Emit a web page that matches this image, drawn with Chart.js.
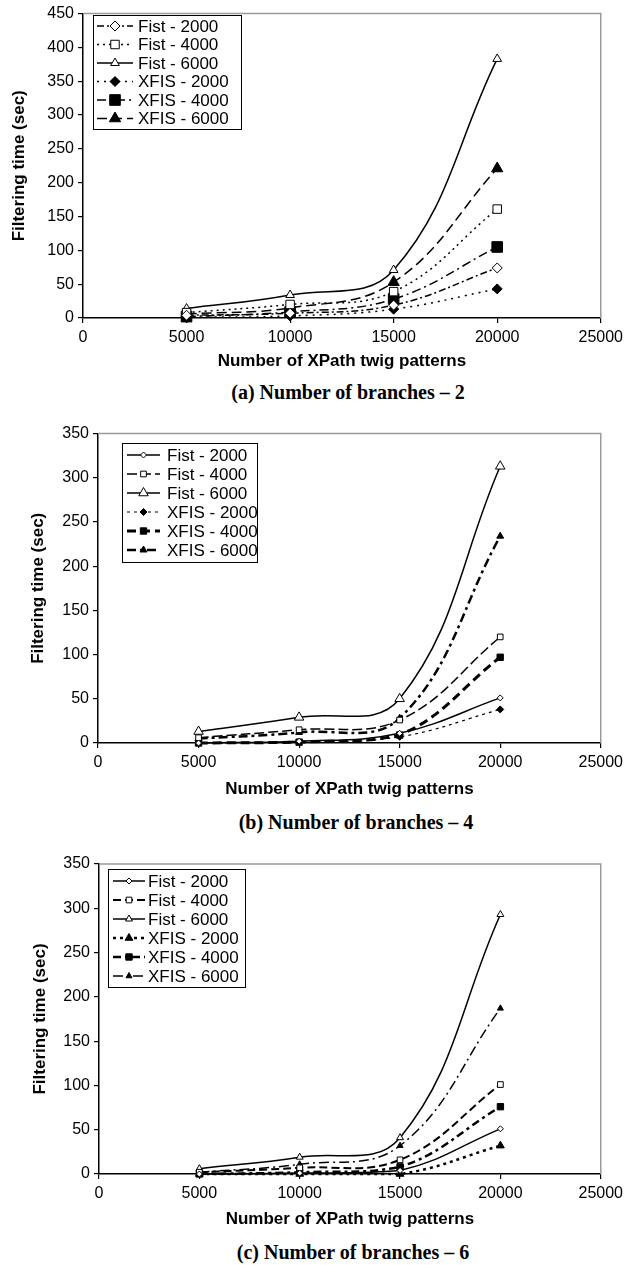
<!DOCTYPE html>
<html>
<head>
<meta charset="utf-8">
<script src="https://cdn.jsdelivr.net/npm/chart.js@4.4.1/dist/chart.umd.min.js"></script>
<style>
  html, body { margin: 0; padding: 0; background: #fff; }
  body { width: 628px; height: 1265px; position: relative; overflow: hidden; }
  canvas { position: absolute; left: 0; }
  .caption {
    position: absolute;
    font: bold 20px "Liberation Serif", "Times New Roman", serif;
    color: #000;
    white-space: nowrap;
    transform: translate(-50%, -50%);
  }
</style>
</head>
<body>
<canvas id="chartA" width="628" height="380" style="top:0"></canvas>
<div class="caption" style="left:348px;top:392px">(a) Number of branches – 2</div>
<canvas id="chartB" width="628" height="385" style="top:420px"></canvas>
<div class="caption" style="left:356px;top:822px">(b) Number of branches – 4</div>
<canvas id="chartC" width="628" height="395" style="top:840px"></canvas>
<div class="caption" style="left:353px;top:1252px">(c) Number of branches – 6</div>

<script>
// x positions shared by every series
const patterns = [5000, 10000, 15000, 20000];
const seriesNames = ['Fist - 2000', 'Fist - 4000', 'Fist - 6000', 'XFIS - 2000', 'XFIS - 4000', 'XFIS - 6000'];

// filtering time (sec), 2 branches
const b2Fist2000 = [4, 7, 19, 74];
const b2Fist4000 = [8, 20, 39, 161];
const b2Fist6000 = [14, 34, 71, 383];
const b2Xfis2000 = [1, 3, 13, 43];
const b2Xfis4000 = [2, 9, 28, 105];
const b2Xfis6000 = [6, 15, 53, 221];

// 4 branches
const b4Fist2000 = [0, 2, 11, 51];
const b4Fist4000 = [6, 15, 26, 120];
const b4Fist6000 = [13, 29, 50, 313];
const b4Xfis2000 = [0, 1, 7, 38];
const b4Xfis4000 = [0, 1, 9, 97];
const b4Xfis6000 = [5, 12, 28, 234];

// 6 branches
const b6Fist2000 = [0, 1, 4, 51];
const b6Fist4000 = [2, 7, 16, 101];
const b6Fist6000 = [6, 19, 41, 293];
const b6Xfis2000 = [0, 0, 0, 32];
const b6Xfis4000 = [0, 2, 8, 76];
const b6Xfis6000 = [2, 11, 32, 187];

Chart.defaults.color = '#000';
Chart.defaults.font.family = '"Liberation Sans", Arial, sans-serif';

// marker shapes for the legend box
function drawMarker(ctx, style, x, y, r, fill) {
  ctx.beginPath();
  if (style === 'rect') {
    const s = r * Math.SQRT1_2;
    ctx.rect(x - s, y - s, 2 * s, 2 * s);
  } else if (style === 'rectRot') {
    ctx.moveTo(x, y - r); ctx.lineTo(x + r, y); ctx.lineTo(x, y + r); ctx.lineTo(x - r, y);
    ctx.closePath();
  } else {
    ctx.moveTo(x, y - r);
    ctx.lineTo(x + r * 0.866, y + r * 0.5);
    ctx.lineTo(x - r * 0.866, y + r * 0.5);
    ctx.closePath();
  }
  ctx.fillStyle = fill;
  ctx.fill();
  ctx.lineWidth = 1;
  ctx.strokeStyle = '#000';
  ctx.stroke();
}

// grey plot border on the top and right
const plotFrame = {
  id: 'plotFrame',
  beforeDatasetsDraw(chart) {
    const { ctx, chartArea: a } = chart;
    ctx.save();
    ctx.strokeStyle = '#9a9a9a';
    ctx.lineWidth = 1.5;
    ctx.beginPath();
    ctx.moveTo(a.left, a.top);
    ctx.lineTo(a.right, a.top);
    ctx.lineTo(a.right, a.bottom);
    ctx.stroke();
    ctx.restore();
  }
};

// boxed legend inside the plot, line sample + marker + label
const boxLegend = {
  id: 'boxLegend',
  afterDraw(chart, args, o) {
    const ctx = chart.ctx;
    ctx.save();
    ctx.fillStyle = '#fff';
    ctx.fillRect(o.x, o.y, o.w, o.h);
    ctx.strokeStyle = '#000';
    ctx.lineWidth = 1;
    ctx.strokeRect(o.x + 0.5, o.y + 0.5, o.w, o.h);
    chart.data.datasets.forEach((ds, i) => {
      const y = o.rowTop + i * o.rowGap;
      ctx.strokeStyle = '#000';
      ctx.setLineDash(ds.borderDash);
      ctx.lineWidth = ds.borderWidth;
      ctx.beginPath();
      ctx.moveTo(o.lineFrom, y);
      ctx.lineTo(o.lineTo, y);
      ctx.stroke();
      ctx.setLineDash([]);
      drawMarker(ctx, ds.pointStyle, (o.lineFrom + o.lineTo) / 2, y, ds.pointRadius, ds.pointBackgroundColor);
      ctx.fillStyle = '#000';
      ctx.font = '17px "Liberation Sans", Arial, sans-serif';
      ctx.textBaseline = 'middle';
      ctx.fillText(ds.label, o.textX, y + 1);
    });
    ctx.restore();
  }
};

function makeChart(id, series, styles, geo) {
  const datasets = series.map((values, i) => {
    const st = styles[i];
    return {
      label: seriesNames[i],
      data: patterns.map((x, j) => ({ x: x, y: values[j] })),
      borderColor: '#000',
      borderWidth: st.width,
      borderDash: st.dash,
      pointStyle: st.marker,
      pointRadius: st.r,
      pointBorderWidth: 1,
      pointBorderColor: '#000',
      pointBackgroundColor: st.filled ? '#000' : '#fff',
      tension: 0.4,
      clip: false,
      fill: false
    };
  });

  return new Chart(document.getElementById(id), {
    type: 'line',
    data: { datasets: datasets },
    plugins: [plotFrame, boxLegend],
    options: {
      responsive: false,
      animation: false,
      devicePixelRatio: 1,
      layout: { padding: { top: geo.top, right: geo.right, left: 0, bottom: 0 } },
      plugins: {
        legend: { display: false },
        tooltip: { enabled: false },
        boxLegend: geo.legend
      },
      scales: {
        x: {
          type: 'linear',
          min: 0,
          max: 25000,
          afterFit: (axis) => { axis.height = geo.xHeight; },
          ticks: { stepSize: 5000, padding: 5, font: { size: 16 }, callback: (v) => String(v) },
          grid: { drawOnChartArea: false, color: '#000', tickLength: 5, lineWidth: 1.2 },
          border: { color: '#000', width: 1.5 },
          title: {
            display: true,
            text: 'Number of XPath twig patterns',
            font: { size: 17, weight: 'bold' },
            padding: { top: 0, bottom: geo.xTitlePad }
          }
        },
        y: {
          min: 0,
          max: geo.yMax,
          afterFit: (axis) => { axis.width = geo.yWidth; },
          ticks: { stepSize: 50, padding: 4, font: { size: 16 } },
          grid: { drawOnChartArea: false, color: '#000', tickLength: 5, lineWidth: 1.2 },
          border: { color: '#000', width: 1.5 },
          title: {
            display: true,
            text: 'Filtering time (sec)',
            font: { size: 17, weight: 'bold' },
            padding: { top: geo.yTitlePad, bottom: 0 }
          }
        }
      }
    }
  });
}

makeChart('chartA',
  [b2Fist2000, b2Fist4000, b2Fist6000, b2Xfis2000, b2Xfis4000, b2Xfis6000],
  [
    { width: 1.5, dash: [7, 3, 2, 3], marker: 'rectRot', r: 5, filled: false },
    { width: 1.5, dash: [2, 4], marker: 'rect', r: 6, filled: false },
    { width: 1.5, dash: [], marker: 'triangle', r: 5, filled: false },
    { width: 1.5, dash: [2, 5], marker: 'rectRot', r: 5, filled: true },
    { width: 1.5, dash: [9, 4, 2, 4], marker: 'rect', r: 7.5, filled: true },
    { width: 1.5, dash: [10, 5], marker: 'triangle', r: 6.5, filled: true }
  ],
  {
    top: 9, right: 24, yWidth: 83, xHeight: 62, yMax: 450, yTitlePad: 9, xTitlePad: 8,
    legend: { x: 93, y: 15, w: 148, h: 114, lineFrom: 97, lineTo: 133, textX: 138, rowTop: 26, rowGap: 18.5 }
  });

makeChart('chartB',
  [b4Fist2000, b4Fist4000, b4Fist6000, b4Xfis2000, b4Xfis4000, b4Xfis6000],
  [
    { width: 1.5, dash: [], marker: 'rectRot', r: 3, filled: false },
    { width: 1.5, dash: [10, 4], marker: 'rect', r: 4, filled: false },
    { width: 1.5, dash: [], marker: 'triangle', r: 5.5, filled: false },
    { width: 1.2, dash: [3, 4], marker: 'rectRot', r: 3.5, filled: true },
    { width: 3, dash: [9, 5], marker: 'rect', r: 4.5, filled: true },
    { width: 2.5, dash: [9, 4, 3, 4], marker: 'triangle', r: 4, filled: true }
  ],
  {
    top: 13, right: 24, yWidth: 98, xHeight: 62, yMax: 350, yTitlePad: 28, xTitlePad: 5,
    legend: { x: 122, y: 23, w: 135, h: 119, lineFrom: 127, lineTo: 160, textX: 167, rowTop: 35, rowGap: 19 }
  });

makeChart('chartC',
  [b6Fist2000, b6Fist4000, b6Fist6000, b6Xfis2000, b6Xfis4000, b6Xfis6000],
  [
    { width: 1.5, dash: [], marker: 'rectRot', r: 3, filled: false },
    { width: 2, dash: [8, 4], marker: 'rect', r: 4, filled: false },
    { width: 1.5, dash: [], marker: 'triangle', r: 4, filled: false },
    { width: 2.5, dash: [3, 4], marker: 'triangle', r: 4.5, filled: true },
    { width: 2.5, dash: [8, 4, 3, 4], marker: 'rect', r: 4.5, filled: true },
    { width: 1.5, dash: [10, 4, 2, 4], marker: 'triangle', r: 3.5, filled: true }
  ],
  {
    top: 24, right: 25, yWidth: 99, xHeight: 61, yMax: 350, yTitlePad: 30, xTitlePad: 5,
    legend: { x: 108, y: 29, w: 137, h: 118, lineFrom: 113, lineTo: 145, textX: 148, rowTop: 41, rowGap: 19 }
  });
</script>
</body>
</html>
